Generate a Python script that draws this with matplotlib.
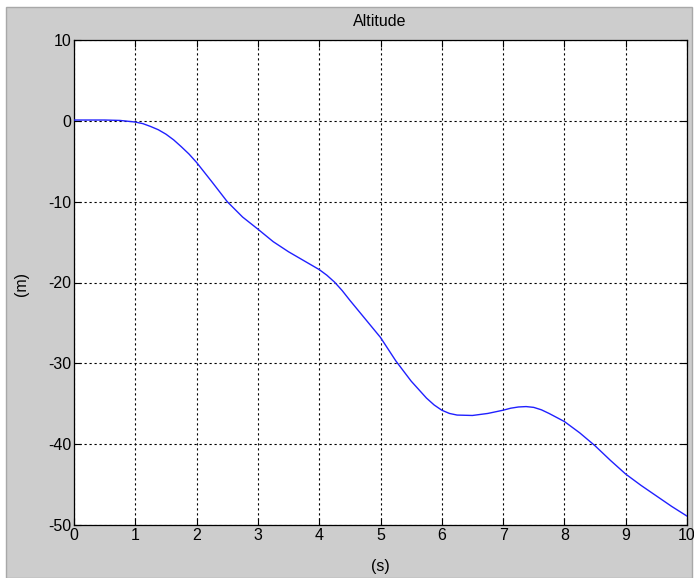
import matplotlib
matplotlib.use("Agg")
import matplotlib.pyplot as plt
from matplotlib.patches import Rectangle

# Data
time_s = [0, 0.25, 0.5, 0.75, 1.0, 1.125, 1.25, 1.375, 1.5, 1.625, 1.75, 1.875, 2.0,
          2.25, 2.5, 2.75, 3.0, 3.25, 3.5, 3.75, 4.0, 4.125, 4.25, 4.375, 4.5, 4.75,
          5.0, 5.25, 5.5, 5.75, 5.875, 6.0, 6.125, 6.25, 6.5, 6.75, 7.0, 7.125,
          7.25, 7.375, 7.5, 7.625, 7.75, 8.0, 8.25, 8.5, 8.75, 9.0, 9.25, 9.5,
          9.75, 10]
altitude_m = [0.1, 0.1, 0.1, 0.05, -0.15, -0.35, -0.7, -1.1, -1.65, -2.35, -3.2,
              -4.1, -5.15, -7.55, -10.0, -11.9, -13.4, -14.95, -16.2, -17.3, -18.4,
              -19.1, -19.95, -21.0, -22.2, -24.5, -26.8, -29.7, -32.2, -34.3, -35.15,
              -35.8, -36.2, -36.4, -36.45, -36.2, -35.8, -35.55, -35.4, -35.35, -35.45,
              -35.75, -36.2, -37.2, -38.6, -40.2, -42.0, -43.7, -45.1, -46.4, -47.7,
              -48.9]
x_ticks = [0, 1, 2, 3, 4, 5, 6, 7, 8, 9, 10]
y_ticks = [-50, -40, -30, -20, -10, 0, 10]
title = "Altitude"
x_label = "(s)"
y_label = "(m)"

plt.rcParams['font.family'] = ['Liberation Sans', 'DejaVu Sans']
plt.rcParams['axes.unicode_minus'] = False

W, H = 694, 578
fig = plt.figure(figsize=(W / 100, H / 100), dpi=100, facecolor='white')

# gray panel background
bg = Rectangle((6 / W, 0), (692 - 6) / W, 1 - 7 / H,
               transform=fig.transFigure, facecolor='#cdcdcd',
               edgecolor='#a8a8a8', linewidth=1.0, zorder=-10)
fig.patches.append(bg)

ax = fig.add_axes([74 / W, 1 - 525 / H, (687 - 74) / W, (525 - 40) / H])
ax.set_zorder(5)
ax.set_facecolor('white')
ax.plot(time_s, altitude_m, color='#2020ff', linewidth=1.0, zorder=3)

ax.set_xlim(0, 10)
ax.set_ylim(-50, 10)
ax.set_xticks(x_ticks)
ax.set_yticks(y_ticks)
ax.grid(True, color='black', linestyle=(0, (2, 2.5)), linewidth=0.8)
ax.tick_params(direction='in', length=5, width=0.8, top=True, right=True,
               labelsize=11.5, colors='black', pad=2)
for s in ax.spines.values():
    s.set_color('black')
    s.set_linewidth(0.9)

fig.text(380 / W, 1 - 22 / H, title, ha='center', va='center', fontsize=11.5, zorder=6)
fig.text(380 / W, 1 - 566 / H, x_label, ha='center', va='center', fontsize=11.5, zorder=6)
fig.text(22 / W, 1 - 284 / H, y_label, ha='center', va='center', fontsize=11.5,
         rotation=90, zorder=6)

fig.savefig("out.png", dpi=100, facecolor='white')
